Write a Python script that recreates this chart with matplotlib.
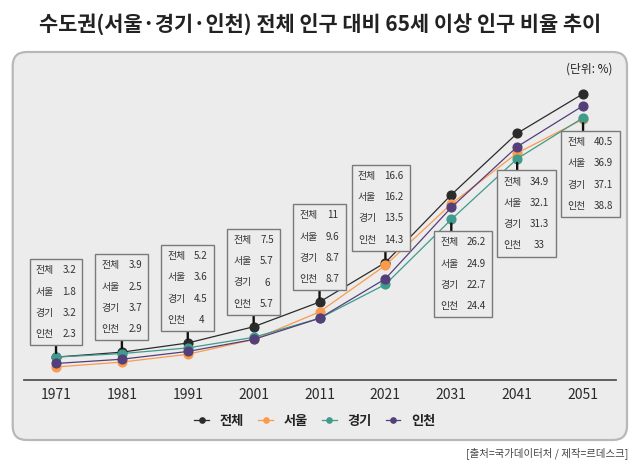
import matplotlib
matplotlib.use('Agg')
import matplotlib.pyplot as plt
from matplotlib.patches import FancyBboxPatch
from matplotlib.offsetbox import TextArea, VPacker, HPacker, AnnotationBbox

plt.rcParams['font.family'] = ['Noto Sans CJK KR', 'DejaVu Sans']

years = ['1971', '1981', '1991', '2001', '2011', '2021', '2031', '2041', '2051']
series_names = ['전체', '서울', '경기', '인천']
total = [3.2, 3.9, 5.2, 7.5, 11, 16.6, 26.2, 34.9, 40.5]
seoul = [1.8, 2.5, 3.6, 5.7, 9.6, 16.2, 24.9, 32.1, 36.9]
gyeonggi = [3.2, 3.7, 4.5, 6, 8.7, 13.5, 22.7, 31.3, 37.1]
incheon = [2.3, 2.9, 4, 5.7, 8.7, 14.3, 24.4, 33, 38.8]
series = [total, seoul, gyeonggi, incheon]
colors = ['#2b2b2b', '#fb9a4b', '#3f9b8b', '#543f7a']

title = '수도권(서울·경기·인천) 전체 인구 대비 65세 이상 인구 비율 추이'
unit = '(단위: %)'
source = '[출처=국가데이터처 / 제작=르데스크]'

fig = plt.figure(figsize=(6.4, 4.61), dpi=100)
fig.patch.set_facecolor('white')

panel = FancyBboxPatch((0.127, (461 - 440) / 100), (627 - 12.7) / 100, (440 - 52) / 100,
                       boxstyle='round,pad=0,rounding_size=0.14',
                       transform=fig.dpi_scale_trans, facecolor='#ececec',
                       edgecolor='#b8b8b8', linewidth=1.6, zorder=-5)
fig.patches.append(panel)

ax = fig.add_axes([24 / 640, (461 - 379.7) / 461, 592 / 640, (379.7 - 62) / 461])
ax.set_zorder(1)
ax.set_facecolor('none')
x = list(range(len(years)))
for s, name, c in zip(series, series_names, colors):
    ax.plot(x, s, color=c, lw=0.9, marker='o', markersize=6.3, label=name, zorder=3)

ax.set_xlim(-0.486, 8.5)
ax.set_ylim(0, 45)
ax.set_yticks([])
ax.set_xticks(x)
ax.set_xticklabels(years, fontsize=10, color='#2a2a2a')
ax.tick_params(axis='x', length=0, pad=6)
for sp in ['top', 'left', 'right']:
    ax.spines[sp].set_visible(False)
ax.spines['bottom'].set_color('#555555')
ax.spines['bottom'].set_linewidth(1.3)

fxs = [0.5, 0.5, 0.5, 0.5, 0.5, 0.6, 0.245, 0.3, 0.34]
tp = dict(fontsize=7.1, color='#333333')
for i in range(len(years)):
    labels = [TextArea(n, textprops=tp) for n in series_names]
    vals = [TextArea(f'{s[i]:g}', textprops=tp) for s in series]
    lcol = VPacker(children=labels, align='left', pad=0, sep=8.1)
    vcol = VPacker(children=vals, align='center', pad=0, sep=8.1)
    box = HPacker(children=[lcol, vcol], align='top', pad=0, sep=6.0)
    fx = fxs[i]
    if i < 6:
        anchor = total[i]
        balign = (fx, 0)
        off = (0, 18)
        rel = (fx, 0)
    else:
        anchor = min(s[i] for s in series)
        balign = (fx, 1)
        off = (0, -18)
        rel = (fx, 1)
    ab = AnnotationBbox(box, (x[i], anchor), xybox=off, xycoords='data',
                        boxcoords='offset pixels', box_alignment=balign,
                        pad=0.45, frameon=True,
                        bboxprops=dict(edgecolor='#7a7a7a', facecolor='#ececec', linewidth=1.0),
                        arrowprops=dict(arrowstyle='-', color='#111111', lw=1.7,
                                        shrinkA=0, shrinkB=3, relpos=rel),
                        zorder=4)
    ax.add_artist(ab)

leg = fig.legend(loc='center', bbox_to_anchor=(0.492, (461 - 421) / 461), ncol=4,
                 frameon=False, fontsize=9.5, handlelength=1.1, handletextpad=0.8,
                 columnspacing=1.1, markerscale=0.6)
for t in leg.get_texts():
    t.set_color('#222222')
    t.set_fontweight('bold')

fig.text(0.5, (461 - 25) / 461, title, ha='center', va='center', fontsize=15,
         fontweight='heavy', color='#222222')
fig.text(613 / 640, (461 - 69) / 461, unit, ha='right', va='center', fontsize=8.5,
         color='#222222', fontweight='medium')
fig.text(628 / 640, (461 - 453) / 461, source, ha='right', va='center', fontsize=7.5,
         color='#444444')

fig.savefig('out.png', dpi=100)
